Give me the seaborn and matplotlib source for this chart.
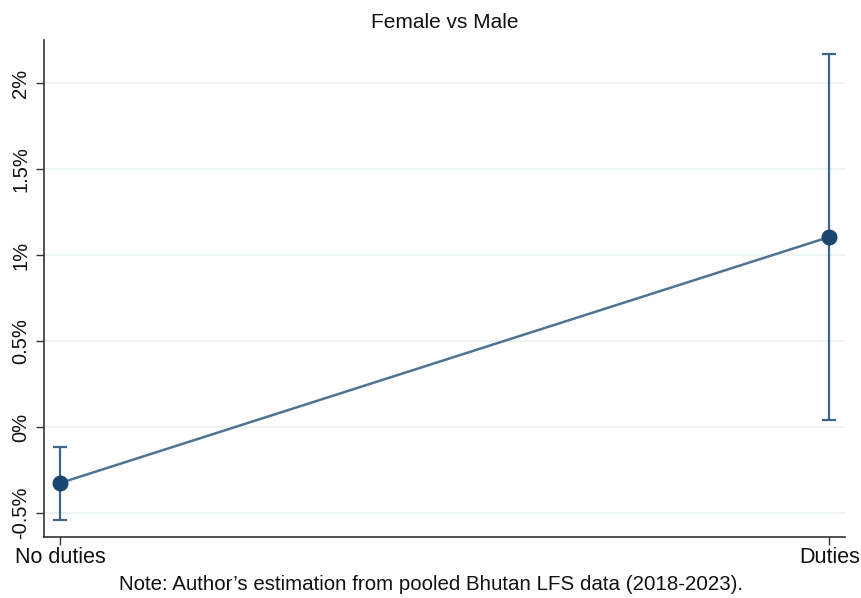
import numpy as np
import pandas as pd
import matplotlib
matplotlib.use("Agg")
import matplotlib.pyplot as plt
import seaborn as sns

categories = ["No duties", "Duties"]
estimate = [-0.326, 1.105]
ci_low = [-0.54, 0.04]
ci_high = [-0.116, 2.17]
yticks = [-0.5, 0, 0.5, 1, 1.5, 2]
ytick_labels = ["-0.5%", "0%", "0.5%", "1%", "1.5%", "2%"]

sns.set_style("white")
plt.rcParams['font.family'] = ['Liberation Sans', 'DejaVu Sans']
plt.rcParams['text.color'] = "#111111"
plt.rcParams['xtick.color'] = "#111111"
plt.rcParams['ytick.color'] = "#111111"

df = pd.DataFrame({"pos": np.arange(len(categories)), "est": estimate})

fig = plt.figure(figsize=(8.62, 5.98), dpi=100)
ax = fig.add_axes([0.051, 0.102, 0.929, 0.831])

for y in yticks:
    ax.axhline(y, color="#eaf2f3", lw=1.2, zorder=0)

line_col = "#4f7393"
ax.errorbar(df["pos"], df["est"],
            yerr=[np.array(estimate) - np.array(ci_low), np.array(ci_high) - np.array(estimate)],
            fmt="none", ecolor="#3d6689", elinewidth=1.6, capsize=5, capthick=1.6, zorder=2)
sns.lineplot(data=df, x="pos", y="est", ax=ax, color=line_col, lw=1.8, zorder=3)
ax.scatter(df["pos"], df["est"], s=110, color="#1a476f", zorder=4)

ax.set_xlim(-0.021, 1.02)
ax.set_ylim(-0.64, 2.25)
ax.set_xticks(df["pos"])
ax.set_xticklabels(categories, fontsize=15.5)
ax.set_yticks(yticks)
ax.set_yticklabels(ytick_labels, rotation=90, va="center", fontsize=14.5)
ax.tick_params(axis="both", bottom=True, left=True, direction="out",
               length=6, width=1, color="#333333")
ax.tick_params(axis="x", pad=1)
ax.tick_params(axis="y", pad=4)
ax.set_xlabel("")
ax.set_ylabel("")

for side in ["top", "right"]:
    ax.spines[side].set_visible(False)
for side in ["left", "bottom"]:
    ax.spines[side].set_color("#333333")
    ax.spines[side].set_linewidth(1.2)

ax.set_title("Female vs Male", fontsize=15, pad=9)
fig.text(0.5, 0.014, "Note: Author\u2019s estimation from pooled Bhutan LFS data (2018-2023).",
         ha="center", fontsize=14.8)

fig.savefig("out.png", dpi=100)
